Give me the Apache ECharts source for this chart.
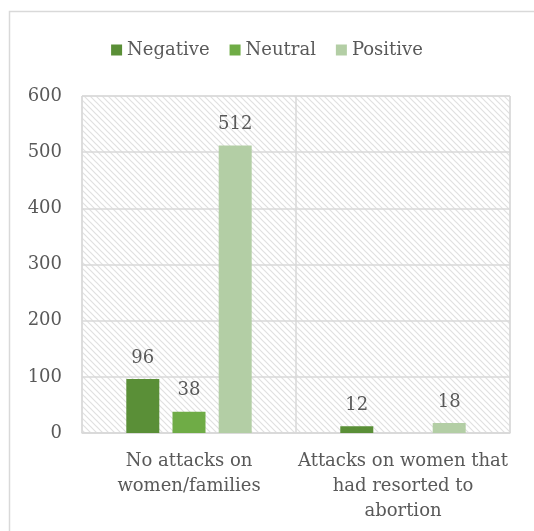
<!DOCTYPE html>
<html>
<head>
<meta charset="utf-8">
<script src="https://cdn.jsdelivr.net/npm/echarts@6/dist/echarts.min.js"></script>
<style>
  html, body { margin: 0; padding: 0; background: #fff; }
  #chart { width: 534px; height: 531px; }
</style>
</head>
<body>
<div id="chart"></div>
<script>
const categories = ["No attacks on\nwomen/families", "Attacks on women that\nhad resorted to\nabortion"];
const negative = [96, 12];
const neutral = [38, "-"];
const positive = [512, 18];
const yTicks = [0, 100, 200, 300, 400, 500, 600];

// light diagonal hatch like the Excel plot area
const hatch = document.createElement("canvas");
hatch.width = 6;
hatch.height = 6;
const hc = hatch.getContext("2d");
hc.strokeStyle = "#e0e0e0";
hc.lineWidth = 1.2;
hc.beginPath();
hc.moveTo(-1, -1); hc.lineTo(7, 7);
hc.moveTo(-1, 5); hc.lineTo(1, 7);
hc.moveTo(5, -1); hc.lineTo(7, 1);
hc.stroke();

const chart = echarts.init(document.getElementById("chart"));
const font = "DejaVu Serif";
const textColor = "#595959";
const fs = 18;

const barLabel = {
  show: true,
  position: "top",
  distance: 12,
  color: textColor,
  fontFamily: font,
  fontSize: fs
};

const option = {
  animation: false,
  textStyle: { fontFamily: font },
  graphic: [{
    type: "rect",
    shape: { x: 9.5, y: 11.5, width: 600, height: 600 },
    style: { fill: null, stroke: "#d9d9d9", lineWidth: 1.5 },
    silent: true
  }],
  legend: {
    top: 36,
    left: "center",
    itemWidth: 11,
    itemHeight: 11,
    itemGap: 20,
    icon: "rect",
    textStyle: { color: textColor, fontFamily: font, fontSize: fs },
    data: ["Negative", "Neutral", "Positive"]
  },
  grid: {
    left: 82,
    right: 24,
    top: 96,
    bottom: 98,
    show: true,
    backgroundColor: { image: hatch, repeat: "repeat" },
    borderColor: "#d9d9d9",
    borderWidth: 1
  },
  xAxis: {
    type: "category",
    data: categories,
    axisLine: { lineStyle: { color: "#d9d9d9", width: 1.5 } },
    axisTick: { show: false },
    splitLine: { show: true, lineStyle: { color: "#d9d9d9", width: 1.5 } },
    axisLabel: {
      color: textColor,
      fontFamily: font,
      fontSize: fs,
      lineHeight: 25,
      margin: 16,
      interval: 0
    }
  },
  yAxis: {
    type: "value",
    min: yTicks[0],
    max: yTicks[yTicks.length - 1],
    interval: 100,
    axisLine: { show: false },
    axisTick: { show: false },
    splitLine: { lineStyle: { color: "#d9d9d9", width: 1.5 } },
    axisLabel: { color: textColor, fontFamily: font, fontSize: fs, margin: 20 }
  },
  series: [
    { name: "Negative", type: "bar", data: negative, barWidth: 33, barGap: "40%",
      itemStyle: { color: "#5a8f37" }, label: barLabel },
    { name: "Neutral", type: "bar", data: neutral, barWidth: 33, barGap: "40%",
      itemStyle: { color: "#6fac46" }, label: barLabel },
    { name: "Positive", type: "bar", data: positive, barWidth: 33, barGap: "40%",
      itemStyle: { color: "#b3cea5" }, label: barLabel }
  ]
};

chart.setOption(option);
</script>
</body>
</html>
